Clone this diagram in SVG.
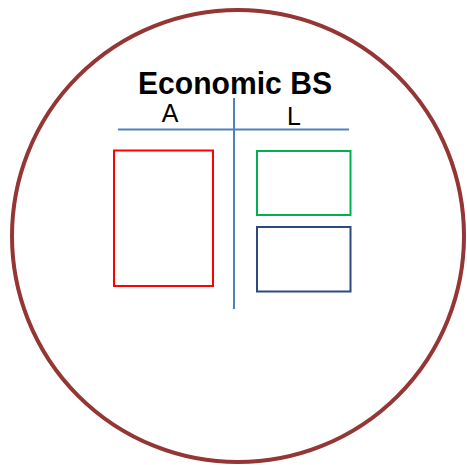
<svg xmlns="http://www.w3.org/2000/svg" width="467" height="465" viewBox="0 0 467 465">
<style>
.box{fill:none;stroke-width:2}
.ax{stroke:#4F81BD;stroke-width:2;fill:none}
text{font-family:"Liberation Sans",Arial,sans-serif;fill:#000}
</style>
<rect width="467" height="465" fill="#fff"/>
<g id="circle"><circle cx="238" cy="236" r="226" fill="none" stroke="#943634" stroke-width="4"/></g>
<g id="title"><text x="235" y="94" font-size="31" font-weight="bold" text-anchor="middle" textLength="194" lengthAdjust="spacingAndGlyphs">Economic BS</text></g>
<g id="connectors">
<line class="ax" x1="118" y1="129.5" x2="349" y2="129.5"/>
<line class="ax" x1="234" y1="98" x2="234" y2="309"/>
</g>
<g id="labelA"><text x="170" y="122" font-size="25" text-anchor="middle">A</text></g>
<g id="labelL"><text x="294" y="125" font-size="25" text-anchor="middle">L</text></g>
<g id="assets"><rect class="box" x="114" y="150.5" width="99" height="135.5" stroke="#FF0000"/></g>
<g id="liab1"><rect class="box" x="257" y="151" width="93.5" height="64" stroke="#00B050"/></g>
<g id="liab2"><rect class="box" x="257" y="227" width="93.5" height="64.5" stroke="#2A4A80"/></g>
</svg>
